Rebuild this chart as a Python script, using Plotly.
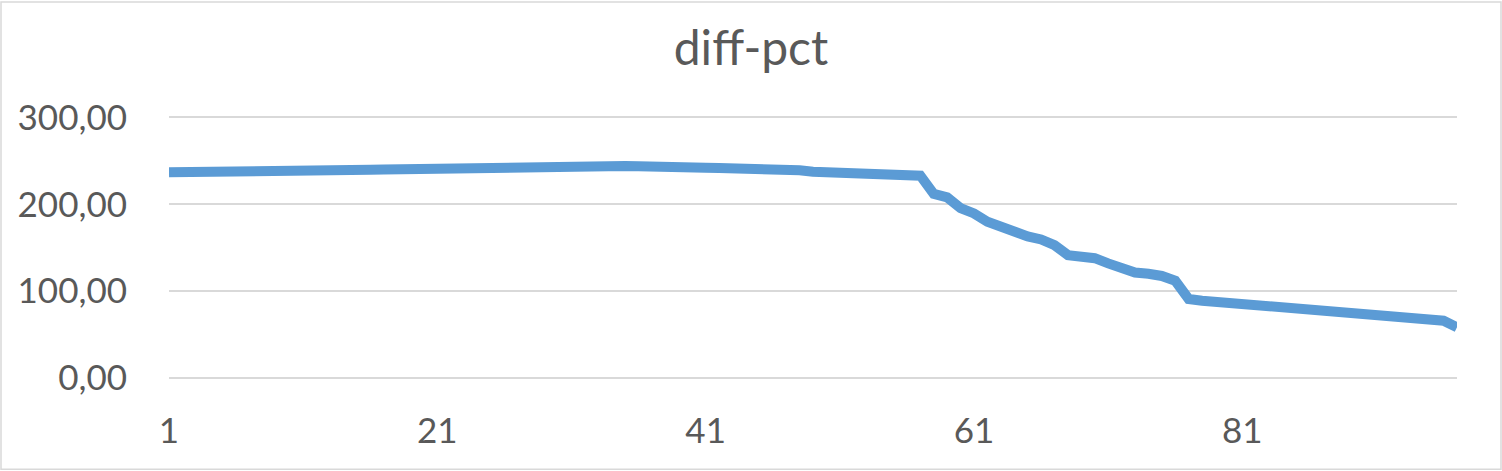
import plotly.graph_objects as go

# ---- data ----
categories = list(range(1, 98))
diff_pct = [
    237.0, 237.0, 237.0, 237.0, 237.0, 237.0, 237.0, 237.0, 237.0, 237.0,
    237.8, 238.5, 239.0, 239.2, 239.5, 239.8, 240.2, 240.5, 240.8, 241.0,
    241.3, 241.7, 242.0, 242.5, 243.0, 243.6, 244.0, 244.6, 245.0, 244.8,
    244.2, 244.0, 244.0, 244.0, 244.0, 243.7, 242.8, 243.6, 243.0, 242.4,
    242.0, 241.8, 241.8, 241.5, 240.8, 240.6, 240.5, 239.2, 237.5, 237.0,
    236.3, 236.2, 236.2, 236.2, 235.5, 234.2, 233.0, 212.0, 208.0, 195.5,
    189.5, 180.0, 174.0, 169.0, 163.0, 159.5, 153.0, 141.5, 139.0, 138.0,
    132.0, 126.5, 121.5, 120.0, 117.5, 112.0, 91.0, 89.0, 87.7, 86.6,
    86.2, 84.0, 82.8, 81.7, 80.5, 80.5, 78.2, 76.0, 74.8, 73.6,
    72.5, 71.3, 70.5, 70.5, 68.2, 66.0, 58.3,
]
x_tickvals = [1, 21, 41, 61, 81]
y_tickvals = [0, 100, 200, 300]
title_text = "diff-pct"

# ---- layout constants ----
W, H = 1502, 471
Y_TOP = 304                      # headroom so the 300 gridline is drawn
PX_PER_UNIT = (378.5 - 117) / 300
ML, MR = 169, 45
MB = H - 378.5
MT = 117 - (Y_TOP - 300) * PX_PER_UNIT
PW = W - ML - MR
PH = H - MT - MB

text_color = "#595959"
grid_color = "#d9d9d9"
font_family = "Lato, 'Open Sans', sans-serif"

fig = go.Figure()
fig.add_trace(go.Scatter(
    x=categories, y=diff_pct, mode="lines",
    line=dict(color="#5B9BD5", width=10),
    hoverinfo="x+y", showlegend=False,
))

# chart-area border
fig.add_shape(
    type="rect", xref="paper", yref="paper",
    x0=(-ML + 1) / PW, x1=1 + (MR - 1) / PW,
    y0=(-MB + 1) / PH, y1=1 + (MT - 1) / PH,
    line=dict(color=grid_color, width=1.5), fillcolor="rgba(0,0,0,0)",
    layer="below",
)

fig.update_layout(
    template="none",
    width=W, height=H,
    margin=dict(l=ML, r=MR, t=MT, b=MB, pad=0, autoexpand=False),
    paper_bgcolor="white", plot_bgcolor="white",
    separators=", ",
    font=dict(family=font_family, color=text_color, size=35),
    title=dict(
        text=title_text, x=0.5, xref="container", xanchor="center",
        y=1 - 48 / H, yref="container", yanchor="middle",
        font=dict(family=font_family, size=48, color=text_color),
        automargin=False,
    ),
    xaxis=dict(
        range=[1, 97], tickmode="array", tickvals=x_tickvals,
        showgrid=False, zeroline=False, showline=False, automargin=False,
        ticks="", ticklabelstandoff=29,
        tickfont=dict(size=35, color=text_color, family=font_family),
    ),
    yaxis=dict(
        range=[0, Y_TOP], tickmode="array", tickvals=y_tickvals,
        tickformat=".2f", automargin=False,
        showgrid=True, gridcolor=grid_color, gridwidth=1.5,
        zeroline=True, zerolinecolor=grid_color, zerolinewidth=1.5,
        showline=False, ticks="", ticklabelstandoff=41,
        tickfont=dict(size=35, color=text_color, family=font_family),
    ),
)

fig.write_html(
    "out.html",
    config={"displayModeBar": False},
    post_script="document.body.style.margin='0';document.body.style.overflow='hidden';",
)
